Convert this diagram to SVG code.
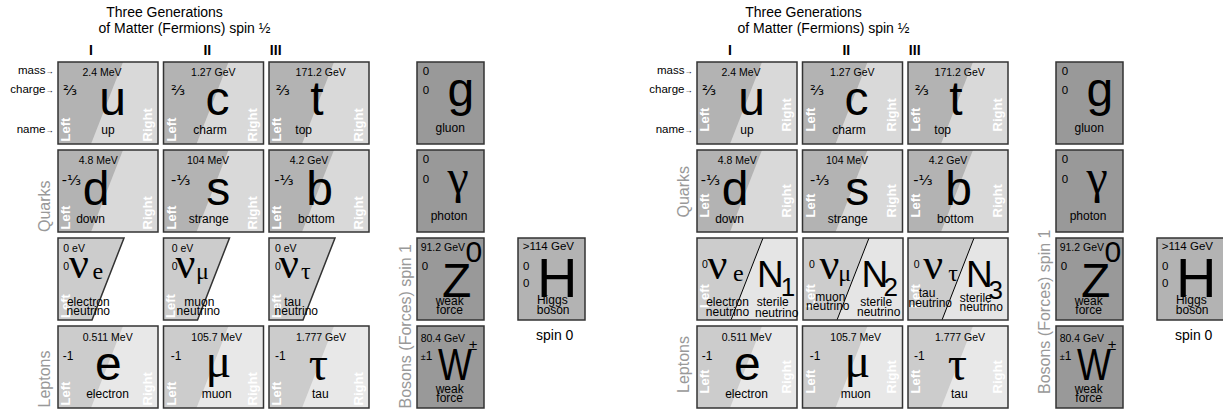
<svg xmlns="http://www.w3.org/2000/svg" xmlns:xlink="http://www.w3.org/1999/xlink" width="1223" height="412" viewBox="0 0 1223 412">
<style>
text{font-family:"Liberation Sans",Arial,sans-serif;fill:#000}
.title{font-size:14px;text-anchor:middle}
.gen{font-size:14px;font-weight:bold;text-anchor:middle}
.lab{font-size:11.5px;text-anchor:end}
.arr{font-size:8px}
.side{font-size:16px;fill:#999}
.mass{font-size:10.5px;text-anchor:middle}
.chg{font-size:14.5px;font-family:"DejaVu Sans",sans-serif}
.c1{font-size:12px}
.big{font-size:48px;text-anchor:middle}
.grk{font-family:"Liberation Serif","Times New Roman",serif}
.name{font-size:12px;text-anchor:middle}
.lr{font-size:13px;font-weight:bold;fill:#fff}
.nu{font-family:"Liberation Serif","Times New Roman",serif;font-size:44px}
.sub{font-family:"Liberation Serif","Times New Roman",serif;font-size:24px}
.z0{font-size:10.5px}
.bm{font-size:10.5px}
.bc{font-size:11.5px}
.nn{font-size:37px}
.ns{font-size:26px}
.spin{font-size:14px;text-anchor:middle}
</style>
<defs>
<g id="qbg"><rect width="100" height="82" fill="#d9d9d9"/><polygon points="0,0 65,0 33,82 0,82" fill="#b3b3b3"/><rect width="100" height="82" fill="none" stroke="#333" stroke-width="1.5"/></g>
<g id="lbg"><rect width="100" height="82" fill="#e8e8e8"/><polygon points="0,0 65,0 33,82 0,82" fill="#cccccc"/><rect width="100" height="82" fill="none" stroke="#333" stroke-width="1.5"/></g>
<polygon id="nbg" points="0,0 66,0 34,82 0,82" fill="#cccccc" stroke="#333" stroke-width="1.5"/>
<g id="nbg2"><rect width="100" height="82" fill="#e5e5e5"/><polygon points="0,0 66,0 34,82 0,82" fill="#cccccc"/><line x1="66" y1="0" x2="34" y2="82" stroke="#000" stroke-width="1"/><rect width="100" height="82" fill="none" stroke="#333" stroke-width="1.5"/></g>
<rect id="bbg" width="67" height="82" fill="#999999" stroke="#333" stroke-width="1.5"/>
<rect id="hbg" width="67" height="82" fill="#b3b3b3" stroke="#333" stroke-width="1.5"/>
</defs>
<rect width="1223" height="412" fill="#fff"/>

<!-- ================= LEFT PANEL ================= -->
<g id="left-panel">
<g id="headings">
<text class="title" x="164.5" y="17">Three Generations</text>
<text class="title" x="184.5" y="33">of Matter (Fermions) spin ½</text>
<text class="gen" x="91" y="55">I</text>
<text class="gen" x="207.3" y="55">II</text>
<text class="gen" x="275.7" y="55">III</text>
<text class="lab" x="53.5" y="74">mass<tspan class="arr">→</tspan></text>
<text class="lab" x="53.5" y="93.3">charge<tspan class="arr">→</tspan></text>
<text class="lab" x="53.5" y="133.3">name<tspan class="arr">→</tspan></text>
<text class="side" transform="translate(50,232) rotate(-90)">Quarks</text>
<text class="side" transform="translate(50,407.5) rotate(-90)">Leptons</text>
<text class="side" transform="translate(410.5,408.5) rotate(-90)">Bosons (Forces) spin 1</text>
</g>

<g id="up">
<use xlink:href="#qbg" x="58" y="62"/>
<text class="lr" transform="translate(70,141.5) rotate(-90)">Left</text>
<text class="lr" transform="translate(151.5,141.5) rotate(-90)">Right</text>
<text class="mass" x="102" y="75.5">2.4 MeV</text>
<text class="chg" x="63" y="95">⅔</text>
<text class="big" x="112.5" y="115">u</text>
<text class="name" x="108" y="133.5">up</text>
</g>
<g id="charm">
<use xlink:href="#qbg" x="163.5" y="62"/>
<text class="lr" transform="translate(175.5,141.5) rotate(-90)">Left</text>
<text class="lr" transform="translate(257,141.5) rotate(-90)">Right</text>
<text class="mass" x="213.3" y="75.5">1.27 GeV</text>
<text class="chg" x="171" y="95">⅔</text>
<text class="big" x="217.5" y="115">c</text>
<text class="name" x="210" y="133.5">charm</text>
</g>
<g id="top">
<use xlink:href="#qbg" x="269" y="62"/>
<text class="lr" transform="translate(281,141.5) rotate(-90)">Left</text>
<text class="lr" transform="translate(362.5,141.5) rotate(-90)">Right</text>
<text class="mass" x="320.7" y="75.5">171.2 GeV</text>
<text class="chg" x="275.7" y="95">⅔</text>
<text class="big" x="317" y="115">t</text>
<text class="name" x="303.7" y="133.5">top</text>
</g>

<g id="down">
<use xlink:href="#qbg" x="58" y="150"/>
<text class="lr" transform="translate(70,229.5) rotate(-90)">Left</text>
<text class="lr" transform="translate(151.5,229.5) rotate(-90)">Right</text>
<text class="mass" x="98.3" y="164">4.8 MeV</text>
<text class="chg" x="61.7" y="184.5">-⅓</text>
<text class="big" x="96" y="204.7">d</text>
<text class="name" x="90.5" y="222.5">down</text>
</g>
<g id="strange">
<use xlink:href="#qbg" x="163.5" y="150"/>
<text class="lr" transform="translate(175.5,229.5) rotate(-90)">Left</text>
<text class="lr" transform="translate(257,229.5) rotate(-90)">Right</text>
<text class="mass" x="208" y="164">104 MeV</text>
<text class="chg" x="171" y="184.5">-⅓</text>
<text class="big" x="218.3" y="204.7">s</text>
<text class="name" x="208.7" y="222.5">strange</text>
</g>
<g id="bottom">
<use xlink:href="#qbg" x="269" y="150"/>
<text class="lr" transform="translate(281,229.5) rotate(-90)">Left</text>
<text class="lr" transform="translate(362.5,229.5) rotate(-90)">Right</text>
<text class="mass" x="309" y="164">4.2 GeV</text>
<text class="chg" x="274.3" y="184.5">-⅓</text>
<text class="big" x="319.7" y="204.7">b</text>
<text class="name" x="316.3" y="222.5">bottom</text>
</g>

<g id="electron-neutrino">
<use xlink:href="#nbg" x="58" y="238"/>
<text class="lr" transform="translate(69.5,318) rotate(-90)">Left</text>
<text class="z0" x="63.3" y="251.7">0 eV</text>
<text class="z0" x="63.3" y="269.5">0</text>
<text class="nu" x="69" y="278">ν</text>
<text class="sub" x="92.5" y="279">e</text>
<text class="name" x="88.3" y="306">electron</text>
<text class="name" x="88.3" y="315">neutrino</text>
</g>
<g id="muon-neutrino">
<use xlink:href="#nbg" x="163.5" y="238"/>
<text class="lr" transform="translate(175,318) rotate(-90)">Left</text>
<text class="z0" x="171.7" y="251.7">0 eV</text>
<text class="z0" x="171.7" y="269.5">0</text>
<text class="nu" x="175.5" y="278">ν</text>
<text class="sub" x="196" y="279">μ</text>
<text class="name" x="199.3" y="306">muon</text>
<text class="name" x="198.3" y="315">neutrino</text>
</g>
<g id="tau-neutrino">
<use xlink:href="#nbg" x="269" y="238"/>
<text class="lr" transform="translate(280.5,318) rotate(-90)">Left</text>
<text class="z0" x="275" y="251.7">0 eV</text>
<text class="z0" x="275" y="269.5">0</text>
<text class="nu" x="279" y="278">ν</text>
<text class="sub" x="301" y="279">τ</text>
<text class="name" x="292.5" y="306">tau</text>
<text class="name" x="296.3" y="315">neutrino</text>
</g>

<g id="electron">
<use xlink:href="#lbg" x="58" y="326"/>
<text class="lr" transform="translate(70,405.5) rotate(-90)">Left</text>
<text class="lr" transform="translate(151.5,405.5) rotate(-90)">Right</text>
<text class="mass" x="107.7" y="340.5">0.511 MeV</text>
<text class="c1" x="62.7" y="360">-1</text>
<text class="big" x="108.3" y="380">e</text>
<text class="name" x="107.5" y="398">electron</text>
</g>
<g id="muon">
<use xlink:href="#lbg" x="163.5" y="326"/>
<text class="lr" transform="translate(175.5,405.5) rotate(-90)">Left</text>
<text class="lr" transform="translate(257,405.5) rotate(-90)">Right</text>
<text class="mass" x="216.7" y="340.5">105.7 MeV</text>
<text class="c1" x="170.7" y="360">-1</text>
<text class="big grk" x="218.3" y="377">μ</text>
<text class="name" x="216.7" y="398">muon</text>
</g>
<g id="tau">
<use xlink:href="#lbg" x="269" y="326"/>
<text class="lr" transform="translate(281,405.5) rotate(-90)">Left</text>
<text class="lr" transform="translate(362.5,405.5) rotate(-90)">Right</text>
<text class="mass" x="321" y="340.5">1.777 GeV</text>
<text class="c1" x="275" y="360">-1</text>
<text class="big grk" x="318.3" y="380">τ</text>
<text class="name" x="320.3" y="398">tau</text>
</g>

<g id="gluon">
<use xlink:href="#bbg" x="417" y="62"/>
<text class="bc" x="422.7" y="75">0</text>
<text class="bc" x="422.7" y="94">0</text>
<text class="big" x="460.8" y="106">g</text>
<text class="name" x="450.2" y="131.5">gluon</text>
</g>
<g id="photon">
<use xlink:href="#bbg" x="417" y="150"/>
<text class="bc" x="422.7" y="163.3">0</text>
<text class="bc" x="422.7" y="183.3">0</text>
<text class="big grk" x="458" y="193">γ</text>
<text class="name" x="449" y="219.5">photon</text>
</g>
<g id="z-boson">
<use xlink:href="#bbg" x="417" y="238"/>
<text class="bm" x="420.7" y="251">91.2 GeV</text>
<text class="bc" x="421.7" y="270">0</text>
<text class="big" x="456.7" y="296.7">Z</text>
<text x="465.5" y="261.7" font-size="30">0</text>
<text class="name" x="449.7" y="305">weak</text>
<text class="name" x="449.7" y="314">force</text>
</g>
<g id="w-boson">
<use xlink:href="#bbg" x="417" y="326"/>
<text class="bm" x="420.7" y="342">80.4 GeV</text>
<text x="420.7" y="360"><tspan font-size="9">±</tspan><tspan font-size="12">1</tspan></text>
<text class="big" transform="translate(455,380) scale(0.82,1)" x="0" y="0" style="font-size:44px">W</text>
<text x="469" y="350" font-size="15">±</text>
<text class="name" x="449.7" y="392.5">weak</text>
<text class="name" x="449.7" y="401.7">force</text>
</g>
<g id="higgs">
<use xlink:href="#hbg" x="518" y="238"/>
<text class="bc" x="522.7" y="250">&gt;114 GeV</text>
<text class="bc" x="523" y="270">0</text>
<text class="bc" x="523" y="287.3">0</text>
<text class="big" x="557.2" y="296.7" style="font-size:56px">H</text>
<text class="name" x="552.3" y="303.5">Higgs</text>
<text class="name" x="553.2" y="314">boson</text>
<text class="spin" x="554.7" y="340">spin 0</text>
</g>
</g>

<!-- ================= RIGHT PANEL ================= -->
<g id="right-panel" transform="translate(639,0)">
<g id="headings-r">
<text class="title" x="164.5" y="17">Three Generations</text>
<text class="title" x="184.5" y="33">of Matter (Fermions) spin ½</text>
<text class="gen" x="91" y="55">I</text>
<text class="gen" x="207.3" y="55">II</text>
<text class="gen" x="275.7" y="55">III</text>
<text class="lab" x="53.5" y="74">mass<tspan class="arr">→</tspan></text>
<text class="lab" x="53.5" y="93.3">charge<tspan class="arr">→</tspan></text>
<text class="lab" x="53.5" y="133.3">name<tspan class="arr">→</tspan></text>
<text class="side" transform="translate(50,217.5) rotate(-90)">Quarks</text>
<text class="side" transform="translate(50,393) rotate(-90)">Leptons</text>
<text class="side" transform="translate(410.5,394) rotate(-90)">Bosons (Forces) spin 1</text>
</g>

<g id="up-r">
<use xlink:href="#qbg" x="58" y="62"/>
<text class="lr" transform="translate(70,131.5) rotate(-90)">Left</text>
<text class="lr" transform="translate(151.5,131.5) rotate(-90)">Right</text>
<text class="mass" x="102" y="75.5">2.4 MeV</text>
<text class="chg" x="63" y="95">⅔</text>
<text class="big" x="112.5" y="115">u</text>
<text class="name" x="108" y="133.5">up</text>
</g>
<g id="charm-r">
<use xlink:href="#qbg" x="163.5" y="62"/>
<text class="lr" transform="translate(175.5,131.5) rotate(-90)">Left</text>
<text class="lr" transform="translate(257,131.5) rotate(-90)">Right</text>
<text class="mass" x="213.3" y="75.5">1.27 GeV</text>
<text class="chg" x="171" y="95">⅔</text>
<text class="big" x="217.5" y="115">c</text>
<text class="name" x="210" y="133.5">charm</text>
</g>
<g id="top-r">
<use xlink:href="#qbg" x="269" y="62"/>
<text class="lr" transform="translate(281,131.5) rotate(-90)">Left</text>
<text class="lr" transform="translate(362.5,131.5) rotate(-90)">Right</text>
<text class="mass" x="320.7" y="75.5">171.2 GeV</text>
<text class="chg" x="275.7" y="95">⅔</text>
<text class="big" x="317" y="115">t</text>
<text class="name" x="303.7" y="133.5">top</text>
</g>

<g id="down-r">
<use xlink:href="#qbg" x="58" y="150"/>
<text class="lr" transform="translate(70,217.5) rotate(-90)">Left</text>
<text class="lr" transform="translate(151.5,217.5) rotate(-90)">Right</text>
<text class="mass" x="98.3" y="164">4.8 MeV</text>
<text class="chg" x="61.7" y="184.5">-⅓</text>
<text class="big" x="96" y="204.7">d</text>
<text class="name" x="90.5" y="222.5">down</text>
</g>
<g id="strange-r">
<use xlink:href="#qbg" x="163.5" y="150"/>
<text class="lr" transform="translate(175.5,217.5) rotate(-90)">Left</text>
<text class="lr" transform="translate(257,217.5) rotate(-90)">Right</text>
<text class="mass" x="208" y="164">104 MeV</text>
<text class="chg" x="171" y="184.5">-⅓</text>
<text class="big" x="218.3" y="204.7">s</text>
<text class="name" x="208.7" y="222.5">strange</text>
</g>
<g id="bottom-r">
<use xlink:href="#qbg" x="269" y="150"/>
<text class="lr" transform="translate(281,217.5) rotate(-90)">Left</text>
<text class="lr" transform="translate(362.5,217.5) rotate(-90)">Right</text>
<text class="mass" x="309" y="164">4.2 GeV</text>
<text class="chg" x="274.3" y="184.5">-⅓</text>
<text class="big" x="319.7" y="204.7">b</text>
<text class="name" x="316.3" y="222.5">bottom</text>
</g>

<g id="electron-neutrino-r">
<use xlink:href="#nbg2" x="58" y="238"/>
<text class="lr" transform="translate(70,308) rotate(-90)">Left</text>
<text class="z0" x="63" y="267.5">0</text>
<text class="nu" x="68.5" y="279">ν</text>
<text class="sub" x="94" y="281">e</text>
<text class="nn" x="118" y="287.3">N</text>
<text class="ns" x="141.8" y="295.7">1</text>
<text class="name" x="88.5" y="305.5">electron</text>
<text class="name" x="88.5" y="315.5">neutrino</text>
<text class="name" x="133.8" y="306">sterile</text>
<text class="name" x="137.7" y="316.5">neutrino</text>
</g>
<g id="muon-neutrino-r">
<use xlink:href="#nbg2" x="164" y="238"/>
<text class="lr" transform="translate(176,308) rotate(-90)">Left</text>
<text class="z0" x="170" y="267.5">0</text>
<text class="nu" x="180.5" y="279">ν</text>
<text class="sub" x="199.2" y="281">μ</text>
<text class="nn" x="222.5" y="287.3">N</text>
<text class="ns" x="244.5" y="295.7">2</text>
<text class="name" x="191.3" y="300.7">muon</text>
<text class="name" x="188.8" y="310">neutrino</text>
<text class="name" x="237.2" y="305.7">sterile</text>
<text class="name" x="239.7" y="315.7">neutrino</text>
</g>
<g id="tau-neutrino-r">
<use xlink:href="#nbg2" x="269" y="238"/>
<text class="lr" transform="translate(281,308) rotate(-90)">Left</text>
<text class="z0" x="274.7" y="267.5">0</text>
<text class="nu" x="284.2" y="279">ν</text>
<text class="sub" x="309.2" y="281">τ</text>
<text class="nn" x="327" y="287.3">N</text>
<text class="ns" x="349.5" y="299">3</text>
<text class="name" x="288" y="297.3">tau</text>
<text class="name" x="291.3" y="307.3">neutrino</text>
<text class="name" x="336.8" y="302.3">sterile</text>
<text class="name" x="342.2" y="311.3">neutrino</text>
</g>

<g id="electron-r">
<use xlink:href="#lbg" x="58" y="326"/>
<text class="lr" transform="translate(70,393.5) rotate(-90)">Left</text>
<text class="lr" transform="translate(151.5,393.5) rotate(-90)">Right</text>
<text class="mass" x="107.7" y="340.5">0.511 MeV</text>
<text class="c1" x="62.7" y="360">-1</text>
<text class="big" x="108.3" y="380">e</text>
<text class="name" x="107.5" y="398">electron</text>
</g>
<g id="muon-r">
<use xlink:href="#lbg" x="163.5" y="326"/>
<text class="lr" transform="translate(175.5,393.5) rotate(-90)">Left</text>
<text class="lr" transform="translate(257,393.5) rotate(-90)">Right</text>
<text class="mass" x="216.7" y="340.5">105.7 MeV</text>
<text class="c1" x="170.7" y="360">-1</text>
<text class="big grk" x="218.3" y="377">μ</text>
<text class="name" x="216.7" y="398">muon</text>
</g>
<g id="tau-r">
<use xlink:href="#lbg" x="269" y="326"/>
<text class="lr" transform="translate(281,393.5) rotate(-90)">Left</text>
<text class="lr" transform="translate(362.5,393.5) rotate(-90)">Right</text>
<text class="mass" x="321" y="340.5">1.777 GeV</text>
<text class="c1" x="275" y="360">-1</text>
<text class="big grk" x="318.3" y="380">τ</text>
<text class="name" x="320.3" y="398">tau</text>
</g>

<g id="gluon-r">
<use xlink:href="#bbg" x="417" y="62"/>
<text class="bc" x="422.7" y="75">0</text>
<text class="bc" x="422.7" y="94">0</text>
<text class="big" x="460.8" y="106">g</text>
<text class="name" x="450.2" y="131.5">gluon</text>
</g>
<g id="photon-r">
<use xlink:href="#bbg" x="417" y="150"/>
<text class="bc" x="422.7" y="163.3">0</text>
<text class="bc" x="422.7" y="183.3">0</text>
<text class="big grk" x="458" y="193">γ</text>
<text class="name" x="449" y="219.5">photon</text>
</g>
<g id="z-boson-r">
<use xlink:href="#bbg" x="417" y="238"/>
<text class="bm" x="420.7" y="251">91.2 GeV</text>
<text class="bc" x="421.7" y="270">0</text>
<text class="big" x="456.7" y="296.7">Z</text>
<text x="465.5" y="261.7" font-size="30">0</text>
<text class="name" x="449.7" y="305">weak</text>
<text class="name" x="449.7" y="314">force</text>
</g>
<g id="w-boson-r">
<use xlink:href="#bbg" x="417" y="326"/>
<text class="bm" x="420.7" y="342">80.4 GeV</text>
<text x="420.7" y="360"><tspan font-size="9">±</tspan><tspan font-size="12">1</tspan></text>
<text class="big" transform="translate(455,380) scale(0.82,1)" x="0" y="0" style="font-size:44px">W</text>
<text x="469" y="350" font-size="15">±</text>
<text class="name" x="449.7" y="392.5">weak</text>
<text class="name" x="449.7" y="401.7">force</text>
</g>
<g id="higgs-r">
<use xlink:href="#hbg" x="518" y="238"/>
<text class="bc" x="522.7" y="250">&gt;114 GeV</text>
<text class="bc" x="523" y="270">0</text>
<text class="bc" x="523" y="287.3">0</text>
<text class="big" x="557.2" y="296.7" style="font-size:56px">H</text>
<text class="name" x="552.3" y="303.5">Higgs</text>
<text class="name" x="553.2" y="314">boson</text>
<text class="spin" x="554.7" y="340">spin 0</text>
</g>
</g>
<g id="connectors"/>
</svg>
